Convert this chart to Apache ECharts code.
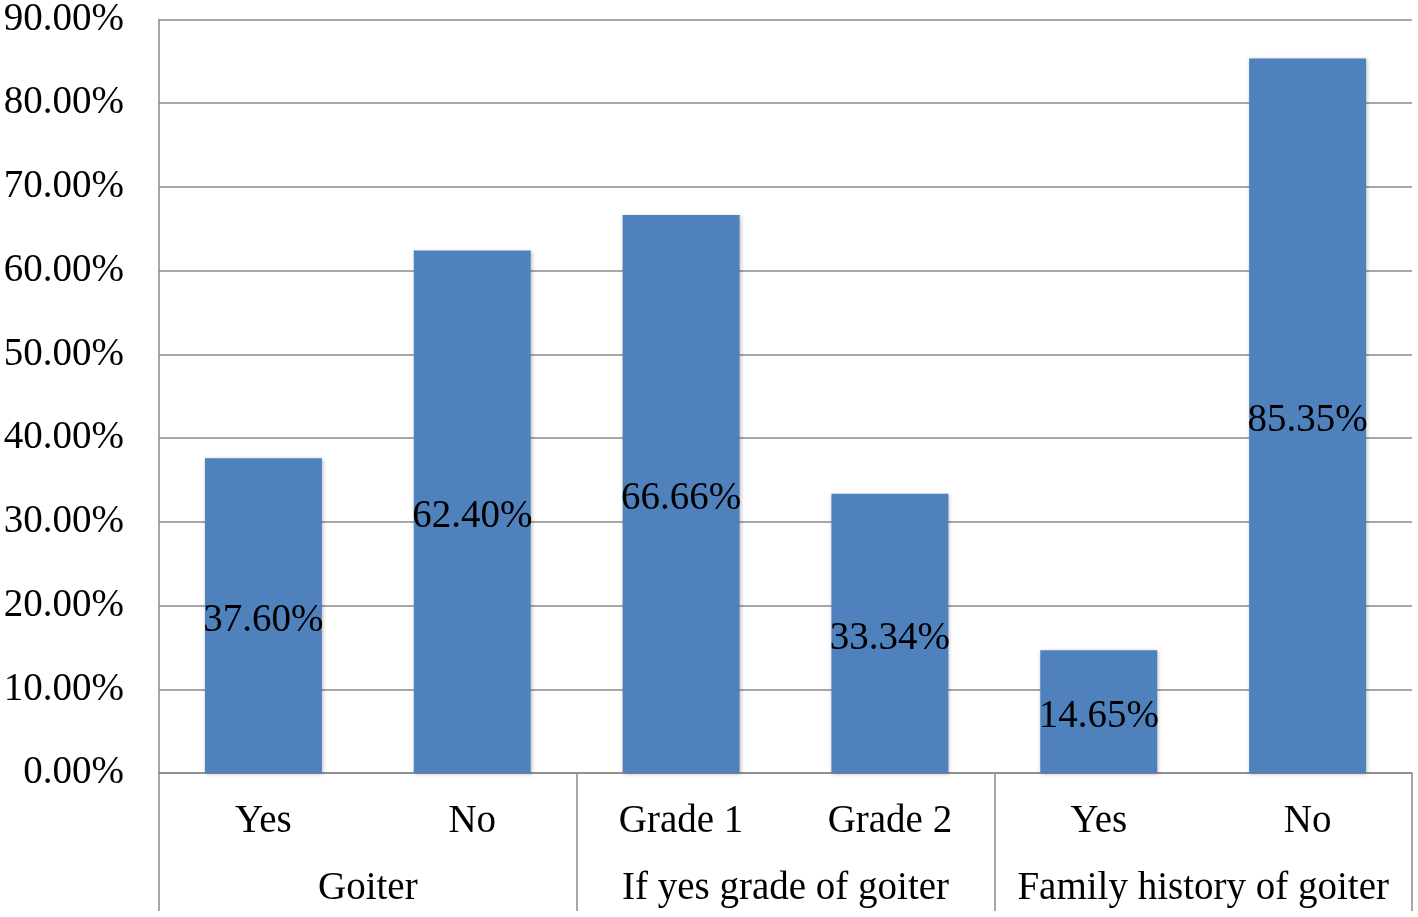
<!DOCTYPE html>
<html>
<head>
<meta charset="utf-8">
<script src="https://cdn.jsdelivr.net/npm/echarts@6/dist/echarts.min.js"></script>
<style>
  html, body { margin: 0; padding: 0; background: #fff; }
  #chart { width: 1418px; height: 917px; }
</style>
</head>
<body>
<div id="chart"></div>
<script>
const categories = ['Yes', 'No', 'Grade 1', 'Grade 2', 'Yes', 'No'];
const groups = ['Goiter', 'If yes grade of goiter', 'Family history of goiter'];
const values = [37.60, 62.40, 66.66, 33.34, 14.65, 85.35];
const yTicks = { min: 0, max: 90, interval: 10 };

const font = 'Liberation Serif';
const lineColor = '#8a8a8a';

const chart = echarts.init(document.getElementById('chart'));
const option = {
  animation: false,
  backgroundColor: '#fff',
  grid: { left: 159, right: 6, top: 18, bottom: 144 },
  xAxis: [
    {
      type: 'category',
      data: categories,
      position: 'bottom',
      axisLine: { show: true, lineStyle: { color: lineColor, width: 1.5 } },
      axisTick: { show: false },
      axisLabel: { margin: 29, color: '#000', fontFamily: font, fontSize: 39, interval: 0 }
    },
    {
      type: 'category',
      data: groups,
      position: 'bottom',
      axisLine: { show: false },
      axisTick: { show: true, length: 138, interval: 0, lineStyle: { color: lineColor, width: 1.5 } },
      axisLabel: { margin: 96, color: '#000', fontFamily: font, fontSize: 39, interval: 0 }
    }
  ],
  yAxis: {
    type: 'value',
    min: yTicks.min,
    max: yTicks.max,
    interval: yTicks.interval,
    axisLine: { show: true, lineStyle: { color: lineColor, width: 1.5 } },
    axisTick: { show: false },
    splitLine: { lineStyle: { color: lineColor, width: 1.5 } },
    axisLabel: {
      margin: 35,
      padding: [5, 0, 0, 0],
      color: '#000',
      fontFamily: font,
      fontSize: 39,
      formatter: v => v.toFixed(2) + '%'
    }
  },
  series: [
    {
      type: 'bar',
      data: values,
      barWidth: '56%',
      itemStyle: {
        color: '#4f81bd',
        shadowColor: 'rgba(0,0,0,0.25)',
        shadowBlur: 4,
        shadowOffsetX: 1,
        shadowOffsetY: 1
      },
      label: {
        show: true,
        position: 'inside',
        offset: [0, 5],
        color: '#000',
        fontFamily: font,
        fontSize: 39,
        formatter: p => p.value.toFixed(2) + '%'
      }
    }
  ]
};
chart.setOption(option);
</script>
</body>
</html>
